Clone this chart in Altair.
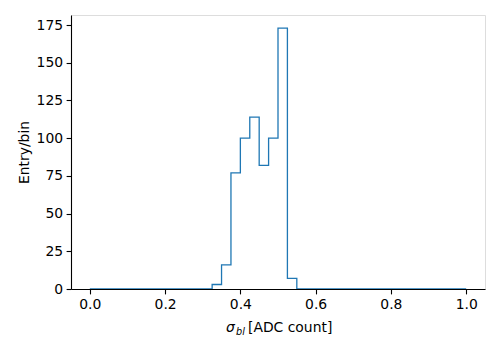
import altair as alt
import pandas as pd

# Histogram: 40 bins of width 0.025 from 0 to 1
bin_width = 0.025
n_bins = 40
counts = [0] * 13 + [3, 16, 77, 100, 114, 82, 100, 173, 7] + [0] * 18
x_ticks = [0.0, 0.2, 0.4, 0.6, 0.8, 1.0]
y_ticks = [0, 25, 50, 75, 100, 125, 150, 175]

edges = [round(i * bin_width, 4) for i in range(n_bins + 1)]
df = pd.DataFrame({"x": edges, "y": counts + [0]})

FONT = "DejaVu Sans"
W, H = 414, 274

base = alt.Chart(df).mark_line(
    interpolate="step-after", color="#1f77b4", strokeWidth=1.3, clip=True
).encode(
    x=alt.X("x:Q", scale=alt.Scale(domain=[-0.05, 1.05], nice=False, zero=False),
            axis=alt.Axis(values=x_ticks, format=".1f", title=None, grid=False,
                          labelFont=FONT, labelFontSize=13.9, labelColor="black",
                          tickColor="black", domainColor="black", tickSize=4.9,
                          labelPadding=3.5, domainWidth=1.1, tickWidth=1.1)),
    y=alt.Y("y:Q", scale=alt.Scale(domain=[0, 181.65], nice=False),
            axis=alt.Axis(values=y_ticks, title="Entry/bin", grid=False,
                          labelFont=FONT, labelFontSize=13.9, labelColor="black",
                          tickColor="black", domainColor="black", tickSize=4.9,
                          labelPadding=3.5, domainWidth=1.1, tickWidth=1.1,
                          titleFont=FONT, titleFontSize=13.9, titleFontWeight="normal",
                          titleColor="black", titleX=-47, titleY=H / 2,
                          titleAngle=-90, titleAlign="center", titleBaseline="middle")),
)

one = pd.DataFrame({"a": [0]})
t_sigma = alt.Chart(one).mark_text(
    text="σ", font=FONT, fontSize=13.9, fontStyle="italic", align="left",
    baseline="alphabetic", color="black"
).encode(x=alt.value(155), y=alt.value(317))
t_sub = alt.Chart(one).mark_text(
    text="bl", font=FONT, fontSize=9.7, fontStyle="italic", align="left",
    baseline="alphabetic", color="black"
).encode(x=alt.value(165), y=alt.value(320))
t_rest = alt.Chart(one).mark_text(
    text="[ADC count]", font=FONT, fontSize=13.9, align="left",
    baseline="alphabetic", color="black"
).encode(x=alt.value(177), y=alt.value(317))

chart = alt.layer(base, t_sigma, t_sub, t_rest).properties(
    width=W, height=H,
    autosize=alt.AutoSizeParams(type="none"),
    padding={"left": 63, "top": 7, "right": 5, "bottom": 50},
).configure_view(stroke="black", strokeWidth=1.1).configure(background="white")

chart.save("out.html", embed_options={"renderer": "svg", "actions": False})
